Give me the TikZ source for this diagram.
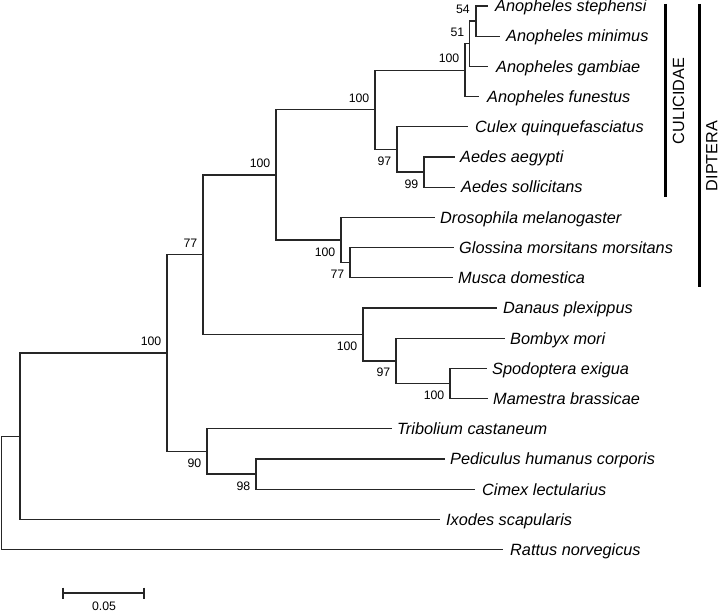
\documentclass[tikz,border=0pt]{standalone}
\usepackage{fontspec}
\setmainfont{Liberation Sans}
\begin{document}
\begin{tikzpicture}[x=1pt,y=-1pt,
  br/.style={line width=1.3pt,color=black!85},
  leaf/.style={font=\fontsize{16.3}{19}\selectfont\itshape,inner sep=0pt,anchor=base west,text=black},
  bs/.style={font=\fontsize{12.3}{14}\selectfont,inner sep=0pt,anchor=base east,text=black},
  grp/.style={font=\fontsize{16.2}{19}\selectfont,inner sep=0pt,anchor=base,rotate=90,text=black},
  bar/.style={line width=3pt,color=black}]
\useasboundingbox (0,0) rectangle (720,612);
% internal nodes (x, y of incoming branch)
\coordinate (root) at (1.5,492.9);
\coordinate (nA) at (20,436.2);
\coordinate (nB) at (167,353.05);
\coordinate (nC) at (203,254.65);
\coordinate (nD) at (276,174.9);
\coordinate (nE) at (375,109.8);
\coordinate (nF) at (465,70.2);
\coordinate (n51) at (469.5,43.75);
\coordinate (n54) at (476,21.1);
\coordinate (nH) at (397,149.45);
\coordinate (nI) at (424,172.1);
\coordinate (nJ) at (341,240.05);
\coordinate (nK) at (350,262.7);
\coordinate (nL) at (363,334.4);
\coordinate (nM) at (396,360.85);
\coordinate (nN) at (450,383.5);
\coordinate (nO) at (207,451.45);
\coordinate (nP) at (256,474.1);
% leaf tips
\coordinate (tSte) at (488,6);
\coordinate (tMin) at (500,36.2);
\coordinate (tGam) at (488,66.4);
\coordinate (tFun) at (479,96.6);
\coordinate (tCul) at (468,126.8);
\coordinate (tAeg) at (455,157);
\coordinate (tSol) at (455,187.2);
\coordinate (tDro) at (435,217.4);
\coordinate (tGlo) at (454,247.6);
\coordinate (tMus) at (453,277.8);
\coordinate (tDan) at (497,308);
\coordinate (tBom) at (505,338.2);
\coordinate (tSpo) at (487,368.4);
\coordinate (tMam) at (488,398.6);
\coordinate (tTri) at (392,428.8);
\coordinate (tPed) at (445,459);
\coordinate (tCim) at (475,489.2);
\coordinate (tIxo) at (440,519.4);
\coordinate (tRat) at (503,549.6);
% branches
\draw[br] (root) |- (nA);
\draw[br] (root) |- (tRat);
\draw[br] (nA) |- (nB);
\draw[br] (nA) |- (tIxo);
\draw[br] (nB) |- (nC);
\draw[br] (nB) |- (nO);
\draw[br] (nC) |- (nD);
\draw[br] (nC) |- (nL);
\draw[br] (nD) |- (nE);
\draw[br] (nD) |- (nJ);
\draw[br] (nE) |- (nF);
\draw[br] (nE) |- (nH);
\draw[br] (nF) |- (n51);
\draw[br] (nF) |- (tFun);
\draw[br] (n51) |- (n54);
\draw[br] (n51) |- (tGam);
\draw[br] (n54) |- (tSte);
\draw[br] (n54) |- (tMin);
\draw[br] (nH) |- (tCul);
\draw[br] (nH) |- (nI);
\draw[br] (nI) |- (tAeg);
\draw[br] (nI) |- (tSol);
\draw[br] (nJ) |- (tDro);
\draw[br] (nJ) |- (nK);
\draw[br] (nK) |- (tGlo);
\draw[br] (nK) |- (tMus);
\draw[br] (nL) |- (tDan);
\draw[br] (nL) |- (nM);
\draw[br] (nM) |- (tBom);
\draw[br] (nM) |- (nN);
\draw[br] (nN) |- (tSpo);
\draw[br] (nN) |- (tMam);
\draw[br] (nO) |- (tTri);
\draw[br] (nO) |- (nP);
\draw[br] (nP) |- (tPed);
\draw[br] (nP) |- (tCim);
% leaf labels
\node[leaf] (lSte) at ([shift={(7,5.8)}]tSte) {Anopheles stephensi};
\node[leaf] (lMin) at ([shift={(6,5.8)}]tMin) {Anopheles minimus};
\node[leaf] (lGam) at ([shift={(8,5.8)}]tGam) {Anopheles gambiae};
\node[leaf] (lFun) at ([shift={(8,5.8)}]tFun) {Anopheles funestus};
\node[leaf] (lCul) at ([shift={(7,5.8)}]tCul) {Culex quinquefasciatus};
\node[leaf] (lAeg) at ([shift={(5,5.8)}]tAeg) {Aedes aegypti};
\node[leaf] (lSol) at ([shift={(6,5.8)}]tSol) {Aedes sollicitans};
\node[leaf] (lDro) at ([shift={(5,5.8)}]tDro) {Drosophila melanogaster};
\node[leaf] (lGlo) at ([shift={(5,5.8)}]tGlo) {Glossina morsitans morsitans};
\node[leaf] (lMus) at ([shift={(5,5.8)}]tMus) {Musca domestica};
\node[leaf] (lDan) at ([shift={(6,5.8)}]tDan) {Danaus plexippus};
\node[leaf] (lBom) at ([shift={(5,5.8)}]tBom) {Bombyx mori};
\node[leaf] (lSpo) at ([shift={(5,5.8)}]tSpo) {Spodoptera exigua};
\node[leaf] (lMam) at ([shift={(5,5.8)}]tMam) {Mamestra brassicae};
\node[leaf] (lTri) at ([shift={(5,5.8)}]tTri) {Tribolium castaneum};
\node[leaf] (lPed) at ([shift={(5,5.8)}]tPed) {Pediculus humanus corporis};
\node[leaf] (lCim) at ([shift={(7,5.8)}]tCim) {Cimex lectularius};
\node[leaf] (lIxo) at ([shift={(6,5.8)}]tIxo) {Ixodes scapularis};
\node[leaf] (lRat) at ([shift={(7,5.8)}]tRat) {Rattus norvegicus};
% bootstrap values
\node[bs] (b54) at ([shift={(-6,-7.2)}]n54) {54};
\node[bs] (b51) at ([shift={(-5,-7.2)}]n51) {51};
\node[bs] (bF) at ([shift={(-5.5,-7.2)}]nF) {100};
\node[bs] (bE) at ([shift={(-5.5,-7.2)}]nE) {100};
\node[bs] (bH) at ([shift={(-5.5,16)}]nH) {97};
\node[bs] (bI) at ([shift={(-5.5,16)}]nI) {99};
\node[bs] (bD) at ([shift={(-5.5,-7.2)}]nD) {100};
\node[bs] (bJ) at ([shift={(-5.5,16)}]nJ) {100};
\node[bs] (bK) at ([shift={(-5.5,16)}]nK) {77};
\node[bs] (bC) at ([shift={(-5.5,-7.2)}]nC) {77};
\node[bs] (bB) at ([shift={(-5.5,-7.2)}]nB) {100};
\node[bs] (bL) at ([shift={(-5.5,16)}]nL) {100};
\node[bs] (bM) at ([shift={(-5.5,16)}]nM) {97};
\node[bs] (bN) at ([shift={(-5.5,16)}]nN) {100};
\node[bs] (bO) at ([shift={(-5.5,16)}]nO) {90};
\node[bs] (bP) at ([shift={(-5.5,16)}]nP) {98};
% group bars
\coordinate (cuT) at (665.7,4);
\coordinate (cuB) at (665.7,197);
\coordinate (diT) at (699,4);
\coordinate (diB) at (699,287);
\draw[bar] (cuT) -- (cuB);
\draw[bar] (diT) -- (diB);
\node[grp] (gCu) at (684,101) {CULICIDAE};
\node[grp] (gDi) at (717.3,156) {DIPTERA};
% scale bar
\coordinate (sL) at (63,593);
\coordinate (sR) at (144,593);
\draw[br] (sL) -- (sR);
\draw[br] ([yshift=5.5pt]sL) -- ([yshift=-5.5pt]sL);
\draw[br] ([yshift=5.5pt]sR) -- ([yshift=-5.5pt]sR);
\node[bs,anchor=base] (sLab) at (104,610.5) {0.05};
\end{tikzpicture}
\end{document}
